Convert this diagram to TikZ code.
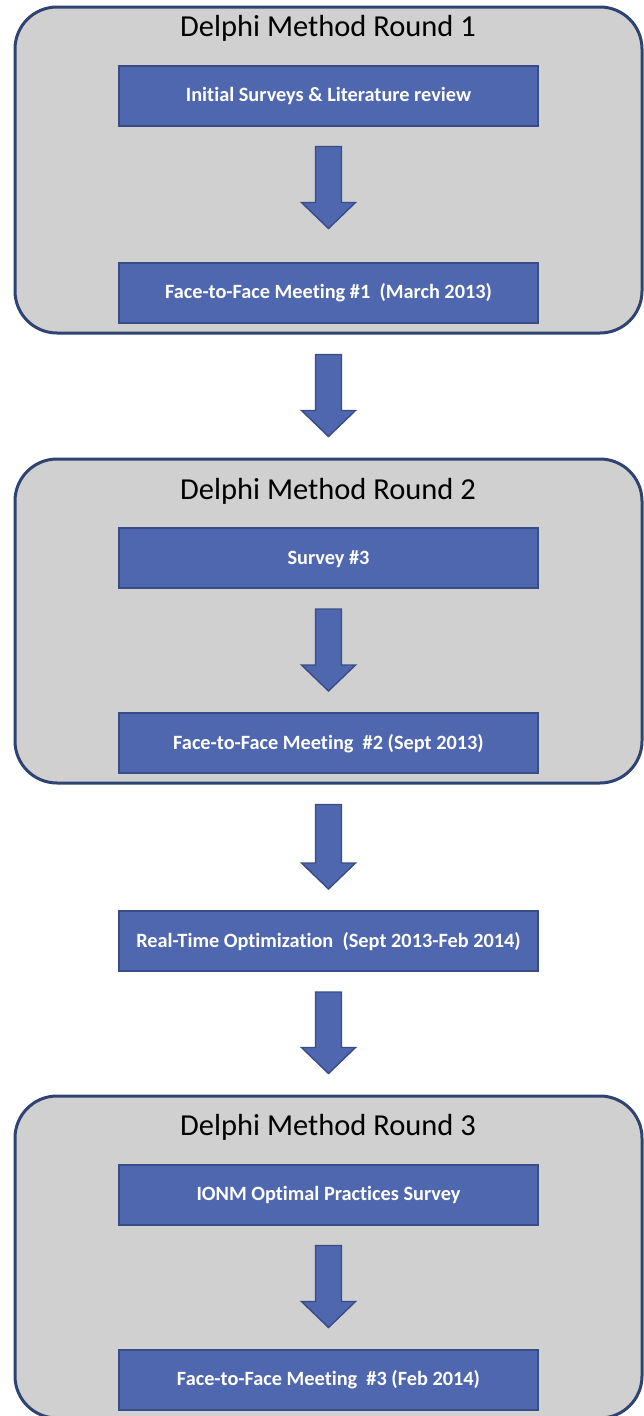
\documentclass[tikz,border=0pt]{standalone}
\usepackage{fontspec}
\setmainfont[Ligatures=NoCommon]{Carlito}
\usetikzlibrary{calc}

\definecolor{stagefill}{HTML}{D0D0D0}
\definecolor{stageline}{HTML}{2E4372}
\definecolor{stepfill}{HTML}{4F67AE}
\definecolor{stepline}{HTML}{3A4C86}

\tikzset{
  stage/.style={draw=stageline, fill=stagefill, line width=3pt,
    rounded corners=42pt, minimum width=627pt, inner sep=0pt},
  stagetitle/.style={anchor=base, text=black, inner sep=0pt,
    font=\fontsize{30.5}{35}\selectfont},
  stepbox/.style={draw=stepline, fill=stepfill, line width=2pt,
    minimum width=419pt, minimum height=60pt, inner sep=0pt,
    text=white, text height=12.8pt, text depth=0pt,
    font=\bfseries\fontsize{20.3}{24}\selectfont},
  blockarrow/.style={draw=stepline, fill=stepfill, line width=1.4pt,
    line join=miter},
}

% block arrow from the bottom of #2 towards the top of #3;
% the optional argument is the gap left above #3
\newcommand\flowarrow[3][21]{%
  \draw[blockarrow] let \p1=(#2.south), \p2=(#3.north) in
    (\x1-13pt,\y1-20pt) -- (\x1+13pt,\y1-20pt)
    -- (\x1+13pt,\y2+#1pt+26pt) -- (\x1+27pt,\y2+#1pt+26pt)
    -- (\x1,\y2+#1pt)
    -- (\x1-27pt,\y2+#1pt+26pt) -- (\x1-13pt,\y2+#1pt+26pt) -- cycle;
}

\begin{document}
\begin{tikzpicture}[x=1pt,y=-1pt]
\useasboundingbox (0,0) rectangle (644,1416);

% the three Delphi rounds
\node[stage, minimum height=326pt] (r1) at (328.5,170) {};
\node[stage, minimum height=324pt] (r2) at (328.5,621) {};
\node[stage, minimum height=322pt] (r3) at (328.5,1257) {};

\node[stagetitle] (t1) at (328,36) {Delphi Method Round 1};
\node[stagetitle] (t2) at (328,499) {Delphi Method Round 2};
\node[stagetitle] (t3) at (328,1135) {Delphi Method Round 3};

% steps
\node[stepbox] (b1) at (328.5,95.5) {Initial Surveys \& Literature review};
\node[stepbox] (b2) at (328.5,292.5) {Face-to-Face Meeting \#1~ (March 2013)};
\node[stepbox] (b3) at (328.5,558) {Survey \#3};
\node[stepbox] (b4) at (328.5,743) {Face-to-Face Meeting~ \#2 (Sept 2013)};
\node[stepbox] (b5) at (328.5,941) {Real-Time Optimization~ (Sept 2013-Feb 2014)};
\node[stepbox] (b6) at (328.5,1194.5) {IONM Optimal Practices Survey};
\node[stepbox] (b7) at (328.5,1379.5) {Face-to-Face Meeting~ \#3 (Feb 2014)};

% flow
\flowarrow[33]{b1}{b2}
\flowarrow{r1}{r2}
\flowarrow{b3}{b4}
\flowarrow{r2}{b5}
\flowarrow{b5}{r3}
\flowarrow{b6}{b7}
\end{tikzpicture}
\end{document}
